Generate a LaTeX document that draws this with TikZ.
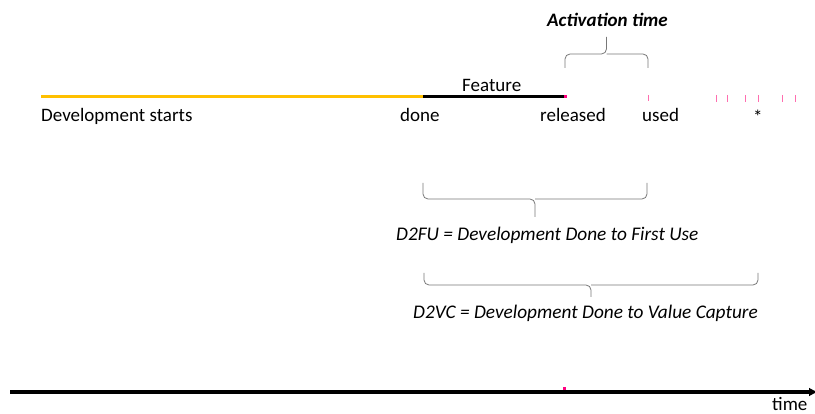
\documentclass[tikz,border=0pt]{standalone}
\usepackage{fontspec}
\setmainfont{Carlito}
\usetikzlibrary{arrows.meta}
\definecolor{devyellow}{RGB}{255,192,0}
\definecolor{markpink}{RGB}{255,0,128}
\definecolor{tickpink}{RGB}{255,110,175}
\definecolor{bracegray}{RGB}{120,120,120}
\begin{document}
\begin{tikzpicture}[x=1pt,y=-1pt,
  lbl/.style={font=\fontsize{19}{22}\selectfont, inner sep=0pt, anchor=base west},
  ilbl/.style={lbl, font=\fontsize{19.3}{22}\selectfont\itshape},
  blbl/.style={lbl, font=\fontsize{19}{22}\selectfont\bfseries\itshape},
  devline/.style={devyellow, line width=3pt},
  featline/.style={black, line width=3pt},
  endmark/.style={markpink, line width=3pt},
  tick/.style={tickpink, line width=1pt},
  spanbrace/.style={bracegray, line width=0.8pt, rounded corners=5pt},
  axis/.style={black, line width=3.5pt, -{Latex[length=9pt,width=9pt]}}]
\useasboundingbox (0,0) rectangle (815,414);

% key moments on the development timeline
\coordinate (start) at (41,97);
\coordinate (done) at (423,97);
\coordinate (rel) at (564,97);
\coordinate (used) at (648,97);

% development and feature segments
\draw[devline] (start) -- (done);
\draw[featline] (done) -- (rel);
\draw[endmark] (rel) -- ++(2.5,0);
\node[lbl] (feature) at (462,92) {Feature};

% timeline labels
\node[lbl] (devstart) at (41,122) {Development starts};
\node[lbl] (donelbl) at (400,122) {done};
\node[lbl] (rellbl) at (540,122) {released};
\node[lbl] (usedlbl) at (642,122) {used};
\node[lbl] (star) at (753,124) {*};

% usage ticks
\draw[tick] (648,95) -- (648,101);
\foreach \x in {716,727,745,758,782,795}
  \draw[tick] (\x,95) -- (\x,102);

% activation time brace
\draw[spanbrace] (565,68) |- (606.5,54) -- (606.5,37);
\draw[spanbrace] (648,68) |- (606.5,54);
\node[blbl] (acttime) at (547,27) {Activation time};

% D2FU brace
\draw[spanbrace] (423,183) |- (535,199) -- (535,217);
\draw[spanbrace] (647,183) |- (535,199);
\node[ilbl] (d2fu) at (396,241) {D2FU = Development Done to First Use};

% D2VC brace
\draw[spanbrace] (424,273) |- (591,285) -- (591,297);
\draw[spanbrace] (758,273) |- (591,285);
\node[ilbl] (d2vc) at (413,319) {D2VC = Development Done to Value Capture};

% time axis
\coordinate (t0) at (10,392);
\coordinate (t1) at (818,392);
\draw[axis] (t0) -- (t1);
\draw[endmark] (563,388.5) -- ++(3,0);
\node[lbl] (timelbl) at (772,410) {time};
\end{tikzpicture}
\end{document}
